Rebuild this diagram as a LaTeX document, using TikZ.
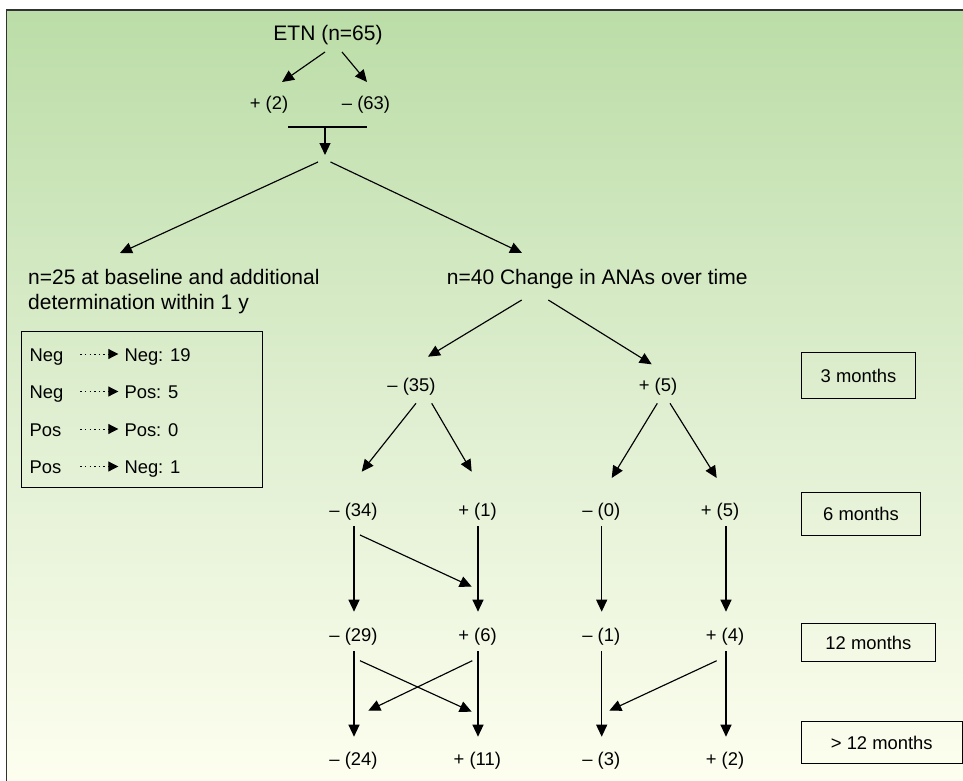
\documentclass[tikz,border=0pt]{standalone}
\usepackage{fontspec}
\setmainfont{Liberation Sans}
\usetikzlibrary{arrows.meta,calc}
\definecolor{gtop}{RGB}{187,221,167}
\definecolor{gmid}{RGB}{222,238,207}
\definecolor{gbot}{RGB}{253,254,239}
\definecolor{frame}{RGB}{50,50,50}
\begin{document}
\begin{tikzpicture}[x=1pt,y=-1pt,
  big/.style={font=\fontsize{21}{25.5}\selectfont, inner sep=0pt},
  lab/.style={font=\fontsize{18.4}{22}\selectfont, inner sep=0pt, anchor=base},
  arr/.style={line width=1.15pt, -{Triangle[length=12pt,width=11pt]}},
  plain/.style={line width=1.15pt},
  dotarr/.style={line width=1pt, dash pattern=on 1.4pt off 3.2pt, -{Triangle[length=10pt,width=10pt]}},
  monthbox/.style={draw, line width=1.1pt, font=\fontsize{18.4}{22}\selectfont,
     text height=13.2pt, text depth=0pt, inner sep=0pt, anchor=north west},
  legendbox/.style={draw, line width=1.1pt, inner sep=0pt, anchor=north west}]
\useasboundingbox (0,0) rectangle (963,781);
% background
\fill[white] (0,0) rectangle (963,781);
\shade[top color=gtop, bottom color=gbot, middle color=gmid] (6.5,10) rectangle (963,781);
\draw[frame, line width=1.6pt] (6.5,781) -- (6.5,10) -- (963,10);

% top of tree
\node[big, anchor=base] (etn) at (328,40.7) {ETN (n=65)};
\node[lab] (p2) at (269,110) {+ (2)};
\node[lab] (m63) at (366,110) {– (63)};
\draw[arr] ($(etn.base)+(-3,11.3)$) -- ($(p2.base)+(13,-28)$);
\draw[arr] ($(etn.base)+(14,11.3)$) -- ($(m63.base)+(1,-28)$);
\draw[plain] ($(p2.base)+(19,17)$) -- ($(m63.base)+(1,17)$);
\coordinate (barmid) at (325,127);
\coordinate (hub) at (325,155);
\draw[arr] (barmid) -- (hub);

\node[big, anchor=base west] (n25) at (28,284) {n=25 at baseline and additional};
\node[big, anchor=base west] (n25b) at (28,309.8) {determination within 1 y};
\node[big, anchor=base west] (n40) at (446.7,284) {n=40 Change in ANAs over time};
\draw[arr] ($(hub)+(-7,7)$) -- ($(n25.base west)+(92,-31)$);
\draw[arr] ($(hub)+(5.5,7)$) -- ($(n40.base west)+(75.3,-31)$);

% legend box
\node[legendbox, minimum width=241pt, minimum height=156pt] (legend) at (21,331) {};
\node[lab, anchor=base west] (r1a) at (29.3,361) {Neg};
\node[lab, anchor=base west] (r1b) at (124.3,361) {Neg: 19};
\node[lab, anchor=base west] (r2a) at (29.3,398.5) {Neg};
\node[lab, anchor=base west] (r2b) at (124.3,398.5) {Pos: 5};
\node[lab, anchor=base west] (r3a) at (29.3,436) {Pos};
\node[lab, anchor=base west] (r3b) at (124.3,436) {Pos: 0};
\node[lab, anchor=base west] (r4a) at (29.3,473.5) {Pos};
\node[lab, anchor=base west] (r4b) at (124.3,473.5) {Neg: 1};
\foreach \a/\b in {r1a/r1b,r2a/r2b,r3a/r3b,r4a/r4b}{
  \draw[dotarr] ($(\a.base west)+(51,-7)$) -- ($(\b.base west)+(-6,-7)$);
}

% 3 months level
\node[lab] (m35) at (411.5,391.7) {– (35)};
\node[lab] (p5a) at (658,391.7) {+ (5)};
\draw[arr] ($(n40.base west)+(75,16)$) -- ($(m35.base)+(16.5,-35)$);
\draw[arr] ($(n40.base west)+(101.6,16)$) -- ($(p5a.base)+(-6.3,-27.4)$);

% 6 months level
\node[lab] (m34) at (353.5,516.7) {– (34)};
\node[lab] (p1) at (477.5,516.7) {+ (1)};
\node[lab] (m0) at (601.3,516.7) {– (0)};
\node[lab] (p5b) at (720,516.7) {+ (5)};
\draw[arr] ($(m35.base)+(4.5,11.6)$) -- ($(m34.base)+(8.2,-45)$);
\draw[arr] ($(m35.base)+(20.2,11.6)$) -- ($(p1.base)+(-5.8,-45)$);
\draw[arr] ($(p5a.base)+(-0.7,11.6)$) -- ($(m0.base)+(10.4,-38.7)$);
\draw[arr] ($(p5a.base)+(12,11.6)$) -- ($(p5b.base)+(-3.3,-38.7)$);

% 12 months level
\node[lab] (m29) at (353.5,641.7) {– (29)};
\node[lab] (p6) at (477.5,641.7) {+ (6)};
\node[lab] (m1) at (601.3,641.7) {– (1)};
\node[lab] (p4) at (725,641.7) {+ (4)};
\draw[arr] ($(m34.base)+(0.5,9.3)$) -- ($(m29.base)+(0.5,-30)$);
\draw[arr] ($(p1.base)+(0.5,9.3)$) -- ($(p6.base)+(0.5,-30)$);
\draw[arr] ($(m0.base)+(0.4,9.3)$) -- ($(m1.base)+(0.4,-30)$);
\draw[arr] ($(p5b.base)+(6,9.3)$) -- ($(p4.base)+(1,-30)$);
\draw[arr] ($(m34.base)+(6.5,18.3)$) -- ($(p6.base)+(-5.8,-55)$);

% >12 months level
\node[lab] (m24) at (353.5,765) {– (24)};
\node[lab] (p11) at (477.3,765) {+ (11)};
\node[lab] (m3) at (601.3,765) {– (3)};
\node[lab] (p2b) at (725,765) {+ (2)};
\draw[arr] ($(m29.base)+(0.5,9.3)$) -- ($(m24.base)+(0.5,-28.3)$);
\draw[arr] ($(p6.base)+(0.5,9.3)$) -- ($(p11.base)+(0.7,-28.3)$);
\draw[arr] ($(m1.base)+(0.4,9.3)$) -- ($(m3.base)+(0.4,-28.3)$);
\draw[arr] ($(p4.base)+(1,9.3)$) -- ($(p2b.base)+(1,-28.3)$);
\draw[arr] ($(m29.base)+(6.5,19)$) -- ($(p11.base)+(-5.6,-53.3)$);
\draw[arr] ($(p6.base)+(-5.2,19)$) -- ($(m24.base)+(14.8,-54.3)$);
\draw[arr] ($(p4.base)+(-8.3,19)$) -- ($(m3.base)+(8,-54.3)$);

% time boxes
\node[monthbox, minimum width=114pt, minimum height=46pt] (t3) at (801,352.3) {3 months};
\node[monthbox, minimum width=119pt, minimum height=43.3pt] (t6) at (801,491.7) {6 months};
\node[monthbox, minimum width=133.7pt, minimum height=37.7pt] (t12) at (801,623.3) {12 months};
\node[monthbox, minimum width=160.5pt, minimum height=42.6pt] (tg12) at (801,720.7) {> 12 months};
\end{tikzpicture}
\end{document}
